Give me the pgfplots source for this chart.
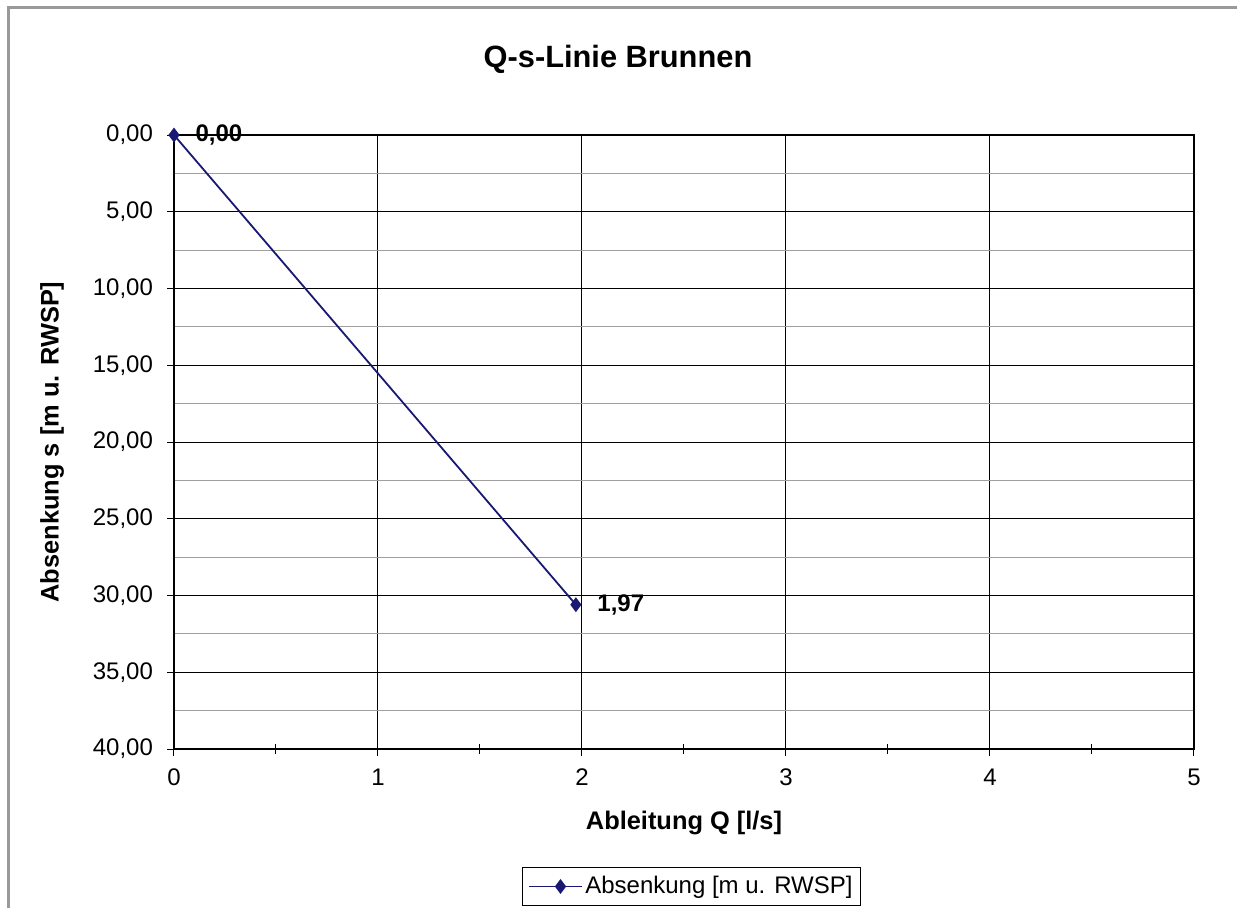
\documentclass[border=0pt]{standalone}
\usepackage{fontspec}
\setmainfont{Liberation Sans}
\usepackage{pgfplots}
\pgfplotsset{compat=1.18}
\definecolor{navyline}{RGB}{25,25,115}
\begin{document}
\begin{tikzpicture}
\useasboundingbox (-87pt,-79.5pt) rectangle (531.5pt,374.5pt);
\draw[gray!80, line width=1.2pt] (-82.75pt,-80pt) -- (-82.75pt,370.75pt) -- (532pt,370.75pt);
\node[font=\bfseries\fontsize{15.4}{17}\selectfont] at (222pt,345pt) {Q-s-Linie Brunnen};
\begin{axis}[
  at={(0,0)}, anchor=south west,
  width=510pt, height=307pt, scale only axis,
  xmin=0, xmax=5, ymin=0, ymax=40,
  y dir=reverse,
  xtick={0,1,2,3,4,5},
  ytick={0,5,...,40},
  minor ytick={2.5,7.5,...,37.5},
  extra x ticks={0.5,1.5,2.5,3.5,4.5},
  extra x tick labels={},
  extra x tick style={tick align=center, xmajorgrids=false, major tick length=5pt},
  xtick pos=bottom, ytick pos=left,
  tick align=outside,
  major tick length=3.5pt,
  minor tick length=0pt,
  xmajorgrids, ymajorgrids, yminorgrids,
  major grid style={black, line width=0.5pt},
  minor grid style={gray!75, line width=0.5pt},
  axis line style={black, line width=0.9pt},
  tick style={black, line width=0.5pt},
  yticklabel style={xshift=-3.5pt, /pgf/number format/.cd, fixed, fixed zerofill, precision=2, use comma},
  /pgf/number format/assume math mode=true,
  ticklabel style={font=\fontsize{12}{14}\selectfont},
  xticklabel style={yshift=-3pt},
  xlabel={Ableitung Q [l/s]},
  ylabel={Absenkung s [m u. RWSP]},
  label style={font=\bfseries\fontsize{12.7}{15}\selectfont},
  xlabel style={at={(0.5,-0.1205)}, anchor=center},
  ylabel style={at={(-0.1196,0.5)}, anchor=center, rotate=0},
  legend style={at={(0.5074,-0.2239)}, anchor=center, draw=black, line width=0.5pt,
    font=\fontsize{12}{14}\selectfont, inner xsep=3pt, inner ysep=3.2pt,
    nodes={inner sep=1.2pt}},
  legend image code/.code={
    \path (-5.5pt,0pt) -- (21pt,0pt);
    \draw[#1, mark=none] (0pt,0pt) -- (20.5pt,0pt);
    \draw[#1, only marks] plot coordinates {(10.25pt,0pt)};
  },
  clip=false,
]
\addplot[navyline, line width=0.9pt, mark=diamond*, mark size=3pt,
  mark options={fill=navyline, draw=navyline},
  point meta=x,
  nodes near coords={\pgfmathprintnumber[fixed, fixed zerofill, precision=2, use comma]{\pgfplotspointmeta}},
  nodes near coords style={anchor=west, xshift=7pt, yshift=0pt, text=black, font=\bfseries\fontsize{12}{14}\selectfont, /pgf/number format/assume math mode=true},
] coordinates {(0,0) (1.97,30.6)};
\addlegendentry{Absenkung [m u. RWSP]}
\end{axis}
\end{tikzpicture}
\end{document}
